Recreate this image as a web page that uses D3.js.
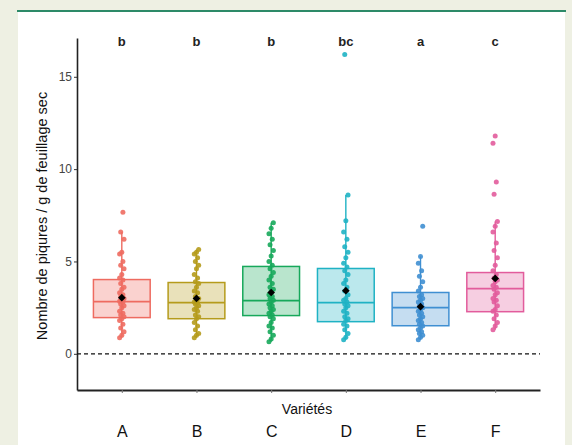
<!DOCTYPE html>
<html>
<head>
<meta charset="utf-8">
<script src="https://cdn.jsdelivr.net/npm/d3@7"></script>
<style>
  body { margin: 0; background: #eef0e3; }
  svg { display: block; }
</style>
</head>
<body>
<div class="chart"></div>
<script>
// data
const varieties = ["A", "B", "C", "D", "E", "F"];
const letters = ["b", "b", "b", "bc", "a", "c"];
const yTicks = [0, 5, 10, 15];

const q1 = [1.96, 1.9, 2.07, 1.74, 1.52, 2.28];
const medians = [2.83, 2.77, 2.88, 2.77, 2.5, 3.53];
const q3 = [4.02, 3.86, 4.73, 4.62, 3.32, 4.4];
const whiskerLow = [0.87, 0.87, 0.65, 0.76, 0.76, 1.3];
const whiskerHigh = [6.6, 5.65, 7.1, 8.6, 5.27, 7.17];
const means = [3.04, 3.0, 3.32, 3.42, 2.55, 4.08];

const pointsA = [0.87, 1.0, 1.2, 1.4, 1.6, 1.8, 1.9, 2.0, 2.1, 2.2, 2.3, 2.5, 2.6, 2.7, 2.8, 2.85, 2.9, 3.0, 3.1, 3.2, 3.3, 3.5, 3.6, 3.8, 4.0, 4.1, 4.3, 4.6, 4.8, 5.0, 5.4, 5.5, 6.2, 6.6, 7.66];
const pointsB = [0.87, 1.0, 1.1, 1.3, 1.5, 1.7, 1.9, 2.0, 2.1, 2.3, 2.4, 2.5, 2.6, 2.7, 2.75, 2.8, 2.9, 3.0, 3.1, 3.3, 3.4, 3.6, 3.8, 3.9, 4.1, 4.3, 4.6, 4.8, 5.0, 5.2, 5.4, 5.5, 5.65];
const pointsC = [0.65, 0.8, 1.0, 1.2, 1.4, 1.5, 1.7, 1.9, 2.0, 2.1, 2.2, 2.3, 2.4, 2.5, 2.6, 2.7, 2.8, 2.9, 3.0, 3.1, 3.2, 3.4, 3.5, 3.6, 3.8, 4.0, 4.2, 4.4, 4.6, 4.8, 5.0, 5.3, 5.6, 5.9, 6.2, 6.5, 6.8, 7.1];
const pointsD = [0.76, 0.9, 1.1, 1.3, 1.5, 1.6, 1.8, 1.9, 2.0, 2.2, 2.3, 2.5, 2.6, 2.7, 2.8, 2.9, 3.0, 3.2, 3.4, 3.6, 3.8, 4.0, 4.3, 4.5, 4.7, 4.9, 5.2, 5.5, 5.8, 6.2, 6.6, 7.2, 8.6, 16.2];
const pointsE = [0.76, 0.9, 1.0, 1.1, 1.2, 1.3, 1.4, 1.5, 1.6, 1.7, 1.8, 1.9, 2.0, 2.1, 2.2, 2.3, 2.4, 2.5, 2.6, 2.7, 2.8, 2.9, 3.0, 3.1, 3.2, 3.4, 3.6, 3.9, 4.2, 4.5, 4.9, 5.27, 6.9];
const pointsF = [1.3, 1.5, 1.7, 1.9, 2.1, 2.3, 2.4, 2.6, 2.8, 2.9, 3.0, 3.2, 3.3, 3.5, 3.6, 3.7, 3.9, 4.0, 4.1, 4.3, 4.5, 4.8, 5.2, 5.6, 6.0, 6.6, 6.9, 7.17, 8.64, 9.3, 11.4, 11.8];
const points = [pointsA, pointsB, pointsC, pointsD, pointsE, pointsF];

const palette = ["#ee6b60", "#b59b1c", "#17a85b", "#1fb2c4", "#3f8fd2", "#e25c9c"];

const width = 572, height = 445;

const svg = d3.select(".chart")
  .append("svg")
  .attr("width", width)
  .attr("height", height);

// white panel + green rule at top
svg.append("rect")
  .attr("x", 18).attr("y", 11)
  .attr("width", 547).attr("height", height - 11)
  .attr("fill", "#ffffff");
svg.append("line")
  .attr("x1", 17).attr("x2", 566)
  .attr("y1", 11).attr("y2", 11)
  .attr("stroke", "#2d8a68")
  .attr("stroke-width", 2);

const x = d3.scalePoint()
  .domain(varieties)
  .range([77, 540])
  .padding(0.6);

const y = d3.scaleLinear()
  .domain([-1.96, 17.1])
  .range([390, 38]);

const colors = d3.scaleOrdinal().domain(varieties).range(palette);
const boxW = x.step() * 0.76;

// y axis
const yAxis = svg.append("g")
  .attr("transform", "translate(77,0)")
  .call(d3.axisLeft(y).tickValues(yTicks).tickSize(3).tickSizeOuter(0).tickPadding(2));
yAxis.select(".domain").attr("stroke", "#222").attr("stroke-width", 1.6);
yAxis.selectAll(".tick line").attr("stroke", "#333");
yAxis.selectAll(".tick text")
  .attr("fill", "#444")
  .style("font-family", "'Liberation Sans Narrow', 'Liberation Sans', sans-serif")
  .style("font-size", "12px");

// x axis
const xAxis = svg.append("g")
  .attr("transform", "translate(0,390)")
  .call(d3.axisBottom(x).tickSize(3).tickSizeOuter(0).tickPadding(33));
xAxis.select(".domain").attr("stroke", "#222").attr("stroke-width", 1.8);
xAxis.selectAll(".tick line").attr("stroke", "#777");
xAxis.selectAll(".tick text")
  .attr("fill", "#111")
  .style("font-family", "'Liberation Sans', Arial, sans-serif")
  .style("font-size", "16px");

// dashed zero line
svg.append("line")
  .attr("x1", 77).attr("x2", 540)
  .attr("y1", y(0)).attr("y2", y(0))
  .attr("stroke", "#111")
  .attr("stroke-width", 1.2)
  .attr("stroke-dasharray", "4,3");

// boxes
const groups = svg.selectAll(".box")
  .data(varieties)
  .enter()
  .append("g")
  .attr("class", "box");

groups.append("line")
  .attr("x1", d => x(d)).attr("x2", d => x(d))
  .attr("y1", (d, i) => y(whiskerLow[i]))
  .attr("y2", (d, i) => y(whiskerHigh[i]))
  .attr("stroke", d => colors(d))
  .attr("stroke-width", 1.4);

groups.append("rect")
  .attr("x", d => x(d) - boxW / 2)
  .attr("width", boxW)
  .attr("y", (d, i) => y(q3[i]))
  .attr("height", (d, i) => y(q1[i]) - y(q3[i]))
  .attr("fill", d => colors(d))
  .attr("fill-opacity", 0.3)
  .attr("stroke", d => colors(d))
  .attr("stroke-width", 1.5);

groups.append("line")
  .attr("x1", d => x(d) - boxW / 2)
  .attr("x2", d => x(d) + boxW / 2)
  .attr("y1", (d, i) => y(medians[i]))
  .attr("y2", (d, i) => y(medians[i]))
  .attr("stroke", d => colors(d))
  .attr("stroke-width", 1.8);

// jittered points (narrow jitter)
groups.each(function(d, i) {
  d3.select(this).selectAll("circle")
    .data(points[i])
    .enter()
    .append("circle")
    .attr("cx", (v, j) => x(d) + ((j * 7) % 5 - 2) * 1.1)
    .attr("cy", v => y(v))
    .attr("r", 2.5)
    .attr("fill", colors(d))
    .attr("fill-opacity", 0.9);
});

// means
groups.append("path")
  .attr("d", d3.symbol().type(d3.symbolDiamond2).size(38))
  .attr("transform", (d, i) => "translate(" + x(d) + "," + y(means[i]) + ")")
  .attr("fill", "#000");

// significance letters
svg.selectAll(".letter")
  .data(varieties)
  .enter()
  .append("text")
  .attr("class", "letter")
  .attr("x", d => x(d))
  .attr("y", 46)
  .attr("text-anchor", "middle")
  .attr("fill", "#222")
  .style("font-family", "'Liberation Sans Narrow', 'Liberation Sans', sans-serif")
  .style("font-size", "13px")
  .style("font-weight", "bold")
  .text((d, i) => letters[i]);

// axis titles
svg.append("text")
  .attr("x", 307)
  .attr("y", 414)
  .attr("text-anchor", "middle")
  .attr("fill", "#111")
  .style("font-family", "'Liberation Sans', Arial, sans-serif")
  .style("font-size", "14px")
  .text("Variétés");

svg.append("text")
  .attr("transform", "translate(47,216) rotate(-90)")
  .attr("text-anchor", "middle")
  .attr("fill", "#111")
  .style("font-family", "'Liberation Sans', Arial, sans-serif")
  .style("font-size", "14.5px")
  .text("Nombre de piqures / g de feuillage sec");
</script>
</body>
</html>
